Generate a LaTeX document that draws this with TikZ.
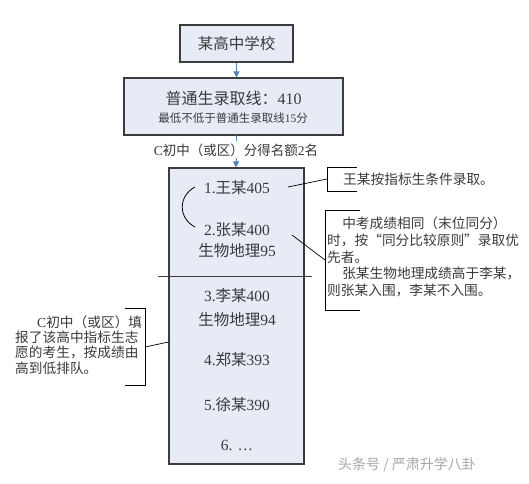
\documentclass[tikz,border=0pt]{standalone}
\usepackage{fontspec}
\setmainfont{Noto Sans CJK SC}
\newfontfamily\lat{Liberation Serif}
\usetikzlibrary{arrows.meta,calc}
\definecolor{boxfill}{HTML}{E7EBF6}
\definecolor{boxline}{HTML}{3C3C3C}
\definecolor{txt}{HTML}{3A3A3A}
\definecolor{arr}{HTML}{4F7FBF}
\tikzset{
  box/.style={draw=boxline, line width=1.2pt, fill=boxfill, inner sep=0pt},
  lbl/.style={text=txt, inner sep=0pt, anchor=center},
  big/.style={lbl, font=\fontsize{15.5}{17}\selectfont},
  small/.style={lbl, font=\fontsize{11.5}{13}\selectfont},
  note/.style={text=txt, inner sep=0pt, anchor=west, font=\fontsize{13.7}{15}\selectfont},
  bracket/.style={draw=black, line width=0.8pt},
  link/.style={draw=black, line width=0.7pt},
  blue arrow/.style={draw=arr, line width=1pt, -{Triangle[length=6pt,width=6pt]}},
  blue line/.style={draw=arr, line width=1pt}
}
\begin{document}
\begin{tikzpicture}[x=1pt,y=-1pt]
\useasboundingbox (0,0) rectangle (529,483);
% top box
\node[box, minimum width=113pt, minimum height=37pt] (school) at (236.5,43.5) {};
\node[big] (schooltxt) at (236.5,43.5) {某高中学校};
% second box
\node[box, minimum width=219pt, minimum height=57pt] (line) at (233.5,106.5) {};
\node[big, font=\fontsize{16}{18}\selectfont] (linetxt) at (233.5,98) {普通生录取线：{\lat 410}};
\node[small] (linesub) at (233,118) {最低不低于普通生录取线{\lat 15}分};
% quota label
\node[lbl, font=\fontsize{13.5}{15}\selectfont] (quota) at (236,150) {{\lat C}初中（或区）分得名额{\lat 2}名};
% main list box
\node[box, minimum width=135pt, minimum height=296pt] (list) at (236.5,316) {};
\coordinate (cutL) at (158,276);
\coordinate (cutR) at (312,276);
\draw[draw=boxline, line width=1pt] (cutL) -- (cutR);
% arrows
\draw[blue arrow] (school.south -| schooltxt) -- (line.north -| schooltxt);
\coordinate (q1) at (236,135);
\coordinate (q2) at (236,141);
\draw[blue line] (q1) -- (q2);
\coordinate (q3) at (236,158);
\draw[blue arrow] (q3) -- (list.north -| q3);
% list entries
\node[big] (e1) at (237,188) {{\lat 1.}王某{\lat 405}};
\node[big] (e2) at (237,230) {{\lat 2.}张某{\lat 400}};
\node[big] (e2b) at (237,251) {生物地理{\lat 95}};
\node[big] (e3) at (237,296) {{\lat 3.}李某{\lat 400}};
\node[big] (e3b) at (237,320) {生物地理{\lat 94}};
\node[big] (e4) at (237,360) {{\lat 4.}郑某{\lat 393}};
\node[big] (e5) at (237,405) {{\lat 5.}徐某{\lat 390}};
\node[big] (e6) at (237,445) {{\lat 6. …}};
% arc between 1 and 2
\coordinate (arcA) at (195,187);
\coordinate (arcB) at (195,227);
\draw[draw=black, line width=0.8pt] (arcA) .. controls (178,196) and (178,218) .. (arcB);
% callout 1
\coordinate (c1a) at (288,187);
\coordinate (c1b) at (327,179);
\draw[link] (c1a) -- (c1b);
\coordinate (b1t) at (327,167);
\coordinate (b1b) at (327,191);
\draw[bracket] ($(b1t)+(30,0)$) -- (b1t) -- (b1b) -- ($(b1b)+(30,0)$);
\node[note] (n1) at (343,179) {王某按指标生条件录取。};
% callout 2
\coordinate (c2a) at (292,235);
\coordinate (c2b) at (325,260);
\draw[link] (c2a) -- (c2b);
\coordinate (b2t) at (325,210);
\coordinate (b2b) at (325,310);
\draw[bracket] ($(b2t)+(35,0)$) -- (b2t) -- (b2b) -- ($(b2b)+(35,0)$);
\node[note] (n2a) at (327,223) {\hspace{1.1em}中考成绩相同（末位同分）};
\node[note] (n2b) at (327,240) {时，按“同分比较原则”录取优};
\node[note] (n2c) at (327,257) {先者。};
\node[note] (n2d) at (327,273) {\hspace{1.1em}张某生物地理成绩高于李某，};
\node[note] (n2e) at (327,290) {则张某入围，李某不入围。};
% left callout
\coordinate (b3t) at (145,308);
\coordinate (b3b) at (145,385);
\draw[bracket] ($(b3t)+(-20,0)$) -- (b3t) -- (b3b) -- ($(b3b)+(-20,0)$);
\coordinate (c3a) at (145,347);
\draw[link] (c3a) -- (list.west |- 0,342);
\node[note] (n3a) at (15,322) {\hspace{1.6em}{\lat C}初中（或区）填};
\node[note] (n3b) at (15,337) {报了该高中指标生志};
\node[note] (n3c) at (15,352) {愿的考生，按成绩由};
\node[note] (n3d) at (15,368) {高到低排队。};
% watermark
\node[lbl, anchor=west, text=gray!70, font=\fontsize{14}{16}\selectfont] (wm) at (338,465) {头条号 / 严肃升学八卦};
\end{tikzpicture}
\end{document}
